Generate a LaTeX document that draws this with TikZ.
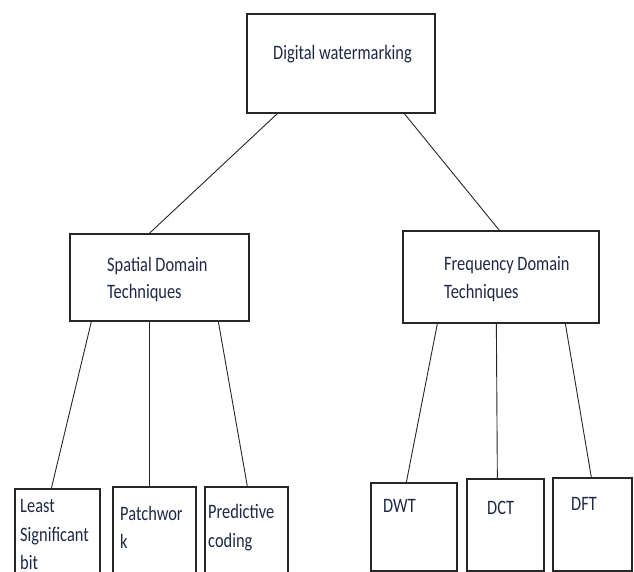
\documentclass[tikz,border=0pt]{standalone}
\usepackage{fontspec}
\setmainfont{Carlito}[FakeStretch=0.8]
\definecolor{txt}{RGB}{30,40,70}
\begin{document}
\begin{tikzpicture}[x=1pt,y=-1pt,
  box/.style={draw=black!85,line width=1.3pt,rectangle,inner sep=0pt},
  lbl/.style={anchor=base west,inner sep=0pt,text=txt,font=\fontsize{20.5}{28}\selectfont},
  link/.style={draw=black!85,line width=0.9pt}]
\useasboundingbox (0,0) rectangle (634,572);
\clip (0,0) rectangle (634,572);
% boxes
\node[box,minimum width=188pt,minimum height=99pt] (top) at (341,63.5) {};
\node[box,minimum width=179pt,minimum height=87pt] (sp) at (159.5,277.5) {};
\node[box,minimum width=196pt,minimum height=92pt] (fr) at (501,277) {};
\node[box,minimum width=85pt,minimum height=120pt] (lsb) at (57.5,549) {};
\node[box,minimum width=83pt,minimum height=120pt] (pw) at (154.5,547) {};
\node[box,minimum width=83pt,minimum height=120pt] (pc) at (246.5,547) {};
\node[box,minimum width=86pt,minimum height=88pt] (dwt) at (414,527) {};
\node[box,minimum width=77pt,minimum height=92pt] (dct) at (505.5,525) {};
\node[box,minimum width=79pt,minimum height=93pt] (dft) at (592.5,524.5) {};
% labels
\node[lbl] (tTop) at (273,60) {Digital watermarking};
\node[lbl] (tSp1) at (107,271) {Spatial Domain};
\node[lbl] (tSp2) at (107,298) {Techniques};
\node[lbl] (tFr1) at (444,270) {Frequency Domain};
\node[lbl] (tFr2) at (444,298) {Techniques};
\node[lbl] (tL1) at (20,512) {Least};
\node[lbl] (tL2) at (20,541) {Significant};
\node[lbl] (tL3) at (20,569) {bit};
\node[lbl] (tP1) at (120,520) {Patchwor};
\node[lbl] (tP2) at (120,548) {k};
\node[lbl] (tC1) at (208,518) {Predictive};
\node[lbl] (tC2) at (208,547) {coding};
\node[lbl] (tDwt) at (383,512) {DWT};
\node[lbl] (tDct) at (487,514) {DCT};
\node[lbl] (tDft) at (571,510) {DFT};
% connectors
\draw[link] ([xshift=31pt]top.south west) -- ([xshift=80pt]sp.north west);
\draw[link] ([xshift=158pt]top.south west) -- ([xshift=97pt]fr.north west);
\draw[link] ([xshift=22pt]sp.south west) -- ([xshift=37pt]lsb.north west);
\draw[link] ([xshift=80pt]sp.south west) -- ([xshift=37pt]pw.north west);
\draw[link] ([xshift=149pt]sp.south west) -- ([xshift=43pt]pc.north west);
\draw[link] ([xshift=35pt]fr.south west) -- ([xshift=36pt]dwt.north west);
\draw[link] ([xshift=94pt]fr.south west) -- ([xshift=31pt]dct.north west);
\draw[link] ([xshift=163pt]fr.south west) -- ([xshift=39pt]dft.north west);
\end{tikzpicture}
\end{document}
